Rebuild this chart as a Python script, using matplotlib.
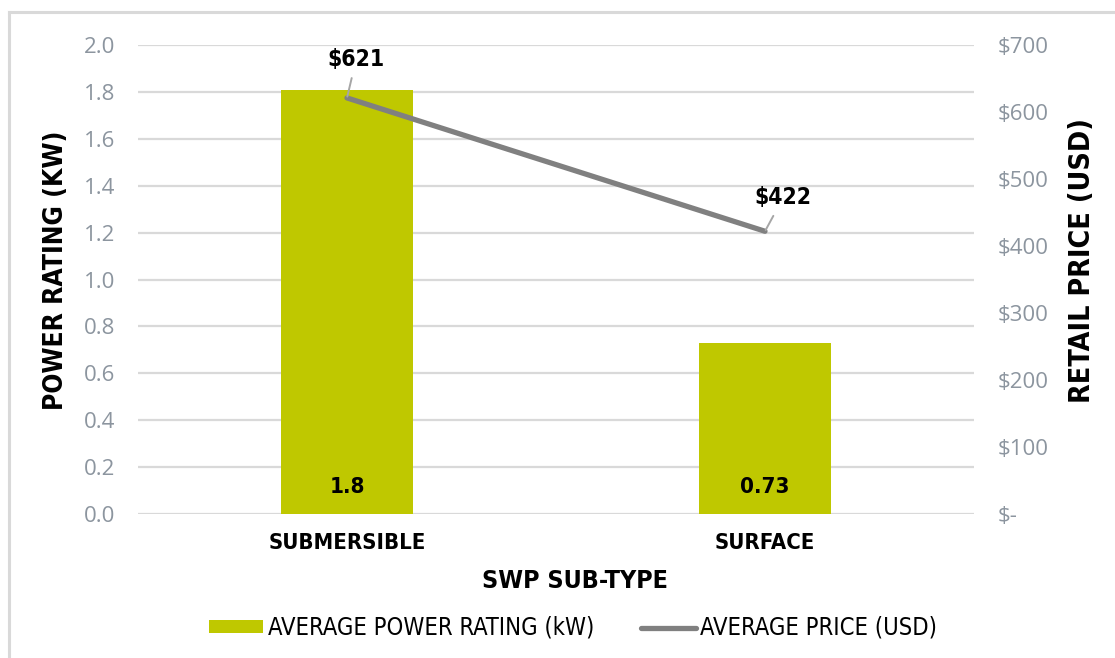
import matplotlib
matplotlib.use('Agg')
import matplotlib.pyplot as plt
from matplotlib import font_manager
from matplotlib.lines import Line2D
import numpy as np

# data
categories = ['SUBMERSIBLE', 'SURFACE']
power_kw = [1.81, 0.73]
power_labels = ['1.8', '0.73']
price_usd = [621, 422]
price_labels = ['$621', '$422']
left_ticks = [0.0, 0.2, 0.4, 0.6, 0.8, 1.0, 1.2, 1.4, 1.6, 1.8, 2.0]
right_ticks = [0, 100, 200, 300, 400, 500, 600, 700]
right_tick_labels = ['$-', '$100', '$200', '$300', '$400', '$500', '$600', '$700']

# is there a condensed DejaVu?
cond = [f for f in font_manager.fontManager.ttflist
        if f.name == 'DejaVu Sans' and str(f.stretch) in ('condensed', '500')]
have_cond = len(cond) > 0
lab = dict(family='DejaVu Sans', fontstretch='condensed' if have_cond else 'normal',
           fontweight='bold')
kk = 1.0 if have_cond else 0.9

tick_font = 'Open Sans'
green = '#BFC800'
line_gray = '#808080'
grid_gray = '#D9D9D9'
tick_gray = '#8C959F'

fig = plt.figure(figsize=(11.15, 6.58), dpi=100)
ax = fig.add_axes([138 / 1115, 1 - 514 / 658, 836 / 1115, 469 / 658])

x = np.arange(len(categories))
bars = ax.bar(x, power_kw, width=0.316, color=green, zorder=2)
ax.set_xlim(-0.5, 1.5)
ax.set_ylim(0, 2.0)
ax.set_yticks(left_ticks)
ax.set_yticklabels(['%.1f' % t for t in left_ticks], family=tick_font,
                   fontsize=16, color=tick_gray)
ax.set_xticks(x)
ax.set_xticklabels(categories, fontsize=15.8 * kk, color='black', **lab)
ax.tick_params(axis='y', length=0, pad=16.5)
ax.tick_params(axis='x', length=0, pad=14)
ax.yaxis.grid(True, color=grid_gray, lw=1.6)
ax.set_axisbelow(True)
for s in ax.spines.values():
    s.set_visible(False)
ax.set_ylabel('POWER RATING (KW)', fontsize=19 * kk, **lab)
ax.yaxis.set_label_coords(-0.082, 0.52)
ax.set_xlabel('SWP SUB-TYPE', fontsize=18 * kk, **lab)
ax.xaxis.set_label_coords(0.523, -0.118)

# bar value labels
for xi, lbl in zip(x, power_labels):
    ax.annotate(lbl, (xi, 0), xytext=(0, 19.5), textcoords='offset points',
                ha='center', va='center', fontsize=16, color='black', **lab)

ax2 = ax.twinx()
line, = ax2.plot(x, price_usd, color=line_gray, lw=3.8, solid_capstyle='round',
                 zorder=3)
ax2.set_ylim(0, 700)
ax2.set_yticks(right_ticks)
ax2.set_yticklabels(right_tick_labels, family=tick_font, fontsize=16,
                    color=tick_gray)
ax2.tick_params(axis='y', length=0, pad=17)
for s in ax2.spines.values():
    s.set_visible(False)
ax2.set_ylabel('RETAIL PRICE (USD)', fontsize=20.5 * kk, **lab)
ax2.yaxis.set_label_coords(1.112, 0.54)

offsets = [(6.5, 27.5), (13, 24)]
for xi, yi, lbl, off in zip(x, price_usd, price_labels, offsets):
    ax2.annotate(lbl, (xi, yi), xytext=off, textcoords='offset points',
                 ha='center', va='center', fontsize=16.5, color='black',
                 arrowprops=dict(arrowstyle='-', color='#A6A6A6', lw=1.4,
                                 shrinkA=3, shrinkB=1), **lab)

leg_prop = font_manager.FontProperties(family='DejaVu Sans',
                                       stretch='condensed' if have_cond else 'normal',
                                       size=17 * kk)
leg = fig.legend([bars, line], ['AVERAGE POWER RATING (kW)', 'AVERAGE PRICE (USD)'],
                 loc='center', bbox_to_anchor=(573 / 1115, 1 - 628 / 658),
                 ncol=2, frameon=False, handlelength=2.3, handleheight=0.42,
                 handletextpad=0.2, columnspacing=2.0, prop=leg_prop)

# outer frame lines (left and top)
fig.add_artist(Line2D([9 / 1115, 9 / 1115], [0, 1 - 12 / 658],
                      transform=fig.transFigure, color=grid_gray, lw=2.2))
fig.add_artist(Line2D([9 / 1115, 1], [1 - 12 / 658, 1 - 12 / 658],
                      transform=fig.transFigure, color=grid_gray, lw=2.2))

fig.savefig('out.png', dpi=100)
